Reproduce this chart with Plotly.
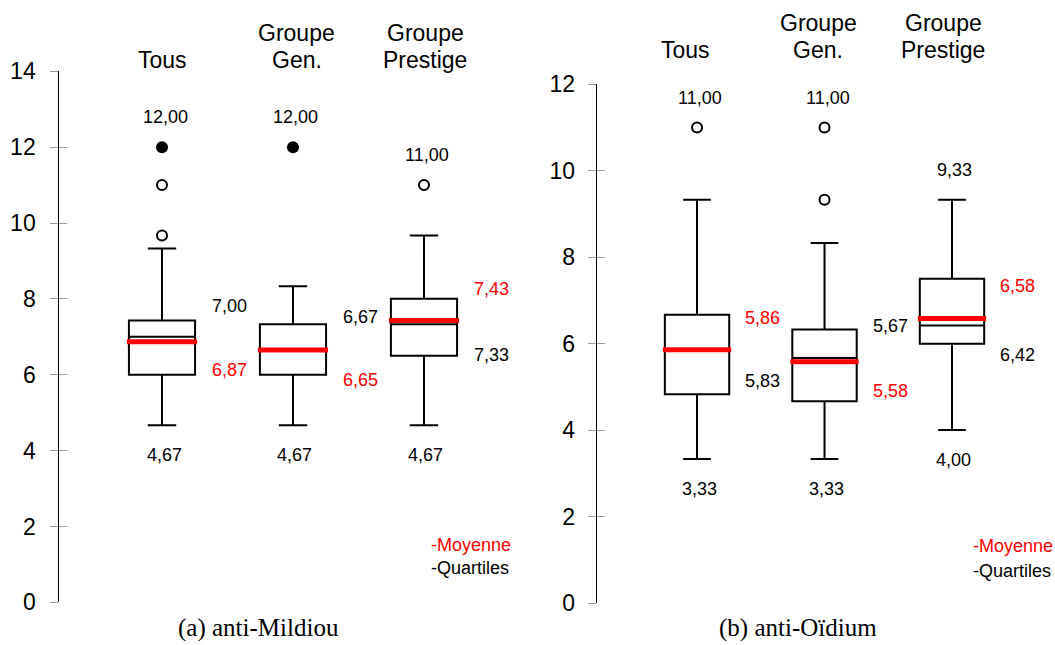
import plotly.graph_objects as go

# ---------------- data ----------------
categories = ["Tous", "Groupe<br>Gen.", "Groupe<br>Prestige"]

# (a) anti-Mildiou
mil_q1 = [6.00, 6.00, 6.50]
mil_median = [7.00, 6.67, 7.33]
mil_q3 = [7.43, 7.33, 8.00]
mil_low = [4.67, 4.67, 4.67]
mil_high = [9.33, 8.33, 9.67]
mil_mean = [6.87, 6.65, 7.43]
mil_out_open = [[9.67, 11.00], [], [11.00]]
mil_out_filled = [[12.00], [12.00], []]
mil_ticks = [0, 2, 4, 6, 8, 10, 12, 14]

# (b) anti-Oïdium
oid_q1 = [4.83, 4.67, 6.00]
oid_median = [5.83, 5.67, 6.42]
oid_q3 = [6.67, 6.33, 7.50]
oid_low = [3.33, 3.33, 4.00]
oid_high = [9.33, 8.33, 9.33]
oid_mean = [5.86, 5.58, 6.58]
oid_out_open = [[11.00], [11.00, 9.33], []]
oid_out_filled = [[], [], []]
oid_ticks = [0, 2, 4, 6, 8, 10, 12]

captions = ["(a) anti-Mildiou", "(b) anti-Oïdium"]
legend_texts = ["-Moyenne", "-Quartiles"]

# ---------------- layout helpers ----------------
W, H = 1055, 645
FONT = "Liberation Sans, Arial, sans-serif"
RED = "#ff0000"
BOXW = 0.505


def fmt(v):
    return f"{v:.2f}".replace(".", ",")


def py(px):
    return 1 - px / H


fig = go.Figure()

panels = [
    dict(xa="x", ya="y", q1=mil_q1, med=mil_median, q3=mil_q3, lo=mil_low,
         hi=mil_high, mean=mil_mean, op=mil_out_open, fi=mil_out_filled,
         top_shift=[14.6, 7, 9.6], bot_shift=[5, -5.3, 1],
         hdr_dx=[0, 0.03, 0.01], hdr_base=60,
         leg_x=429 / W, leg_y=[py(545), py(568)], cap_x=258 / W),
    dict(xa="x2", ya="y2", q1=oid_q1, med=oid_median, q3=oid_q3, lo=oid_low,
         hi=oid_high, mean=oid_mean, op=oid_out_open, fi=oid_out_filled,
         top_shift=[-3.7, 3.3, -6.7], bot_shift=[13, 10.6, -11],
         hdr_dx=[-0.09, -0.05, -0.07], hdr_base=50,
         leg_x=971 / W, leg_y=[py(546), py(571)], cap_x=798 / W),
]

annotations = []
for k, p in enumerate(panels):
    pos = list(range(len(categories)))
    fig.add_trace(go.Box(
        x=pos, q1=p["q1"], median=p["med"], q3=p["q3"],
        lowerfence=p["lo"], upperfence=p["hi"],
        width=BOXW, whiskerwidth=0.43, boxpoints=False,
        fillcolor="white", line=dict(color="black", width=2),
        xaxis=p["xa"], yaxis=p["ya"], showlegend=False, hoverinfo="skip"))
    # mean lines
    for i, m in enumerate(p["mean"]):
        fig.add_trace(go.Scatter(
            x=[i - BOXW * 0.53, i + BOXW * 0.53], y=[m, m], mode="lines",
            line=dict(color=RED, width=5), xaxis=p["xa"], yaxis=p["ya"],
            showlegend=False, hoverinfo="skip"))
    # outliers
    ox, oy, fx, fy = [], [], [], []
    for i in pos:
        for v in p["op"][i]:
            ox.append(i); oy.append(v)
        for v in p["fi"][i]:
            fx.append(i); fy.append(v)
    fig.add_trace(go.Scatter(
        x=ox, y=oy, mode="markers",
        marker=dict(symbol="circle-open", size=10, color="black",
                    line=dict(width=2, color="black")),
        xaxis=p["xa"], yaxis=p["ya"], showlegend=False, hoverinfo="skip"))
    fig.add_trace(go.Scatter(
        x=fx, y=fy, mode="markers",
        marker=dict(symbol="circle", size=12, color="black"),
        xaxis=p["xa"], yaxis=p["ya"], showlegend=False, hoverinfo="skip"))
    # crossing tick overlay axis trace
    fig.add_trace(go.Scatter(
        x=[None], y=[None], xaxis=p["xa"], yaxis="y%d" % (k + 3),
        showlegend=False, hoverinfo="skip"))

    for i in pos:
        top_val = max([p["hi"][i]] + p["op"][i] + p["fi"][i])
        annotations.append(dict(
            x=i, y=top_val, xref=p["xa"], yref=p["ya"], text=fmt(top_val),
            showarrow=False, yshift=30, xshift=3,
            font=dict(size=18, color="black", family=FONT)))
        annotations.append(dict(
            x=i, y=p["lo"][i], xref=p["xa"], yref=p["ya"], text=fmt(p["lo"][i]),
            showarrow=False, yshift=-30, xshift=2,
            font=dict(size=18, color="black", family=FONT)))
        med, mean = p["med"][i], p["mean"][i]
        if mean > med:
            top_txt, top_col, bot_txt, bot_col = mean, RED, med, "black"
        else:
            top_txt, top_col, bot_txt, bot_col = med, "black", mean, RED
        annotations.append(dict(
            x=i + 0.515, y=p["q3"][i], xref=p["xa"], yref=p["ya"],
            text=fmt(top_txt), showarrow=False, yshift=p["top_shift"][i],
            font=dict(size=18, color=top_col, family=FONT)))
        annotations.append(dict(
            x=i + 0.515, y=p["q1"][i], xref=p["xa"], yref=p["ya"],
            text=fmt(bot_txt), showarrow=False, yshift=p["bot_shift"][i],
            font=dict(size=18, color=bot_col, family=FONT)))
        # headers, one annotation per line (27 px line spacing)
        lines = categories[i].split("<br>")
        for j, line in enumerate(lines):
            ypx = p["hdr_base"] - 27 * (len(lines) - 1 - j)
            annotations.append(dict(
                x=i + p["hdr_dx"][i], y=py(ypx), xref=p["xa"], yref="paper",
                text=line, showarrow=False, yanchor="middle",
                font=dict(size=23, color="black", family=FONT)))
    # legend texts
    for j, t in enumerate(legend_texts):
        annotations.append(dict(
            x=p["leg_x"], y=p["leg_y"][j], xref="paper", yref="paper",
            text=t, showarrow=False, xanchor="left", yanchor="middle",
            font=dict(size=18, color=RED if j == 0 else "black", family=FONT)))
    # caption
    annotations.append(dict(
        x=p["cap_x"], y=py(628), xref="paper", yref="paper", text=captions[k],
        showarrow=False, xanchor="center", yanchor="middle",
        font=dict(size=25, color="black",
                  family="Liberation Serif, Times New Roman, serif")))

tick_font = dict(size=23, color="black", family=FONT)

fig.update_layout(
    width=W, height=H, margin=dict(l=0, r=0, t=0, b=0, autoexpand=False),
    paper_bgcolor="white", plot_bgcolor="white",
    annotations=annotations,
    xaxis=dict(domain=[59.3 / W, 520 / W], range=[-0.784, 2.733],
               visible=False, automargin=False),
    xaxis2=dict(domain=[596.7 / W, 1.0], range=[-0.787, 2.808],
                visible=False, automargin=False),
    yaxis=dict(domain=[py(602.3), py(71.3)], range=[0, 14], anchor="x",
               tickvals=mil_ticks, ticks="outside", ticklen=8,
               tickcolor="#999999", tickwidth=1, showline=True,
               linecolor="black", linewidth=1, showgrid=False,
               zeroline=False, tickfont=tick_font, ticklabelstandoff=10,
               automargin=False),
    yaxis2=dict(domain=[py(603), py(84.3)], range=[0, 12], anchor="x2",
                tickvals=oid_ticks, ticks="outside", ticklen=8,
                tickcolor="#999999", tickwidth=1, showline=True,
                linecolor="black", linewidth=1, showgrid=False,
                zeroline=False, tickfont=tick_font, ticklabelstandoff=8,
                automargin=False),
    yaxis3=dict(domain=[py(602.3), py(71.3)], range=[0, 14], anchor="x",
                overlaying="y", tickvals=mil_ticks, ticks="inside",
                ticklen=8, tickcolor="#999999", showticklabels=False,
                showline=False, showgrid=False, zeroline=False,
                automargin=False),
    yaxis4=dict(domain=[py(603), py(84.3)], range=[0, 12], anchor="x2",
                overlaying="y2", tickvals=oid_ticks, ticks="inside",
                ticklen=8, tickcolor="#999999", showticklabels=False,
                showline=False, showgrid=False, zeroline=False,
                automargin=False),
)

fig.write_html(
    "out.html",
    config={"displayModeBar": False},
    post_script="document.body.style.margin='0';document.body.style.overflow='hidden';",
)
